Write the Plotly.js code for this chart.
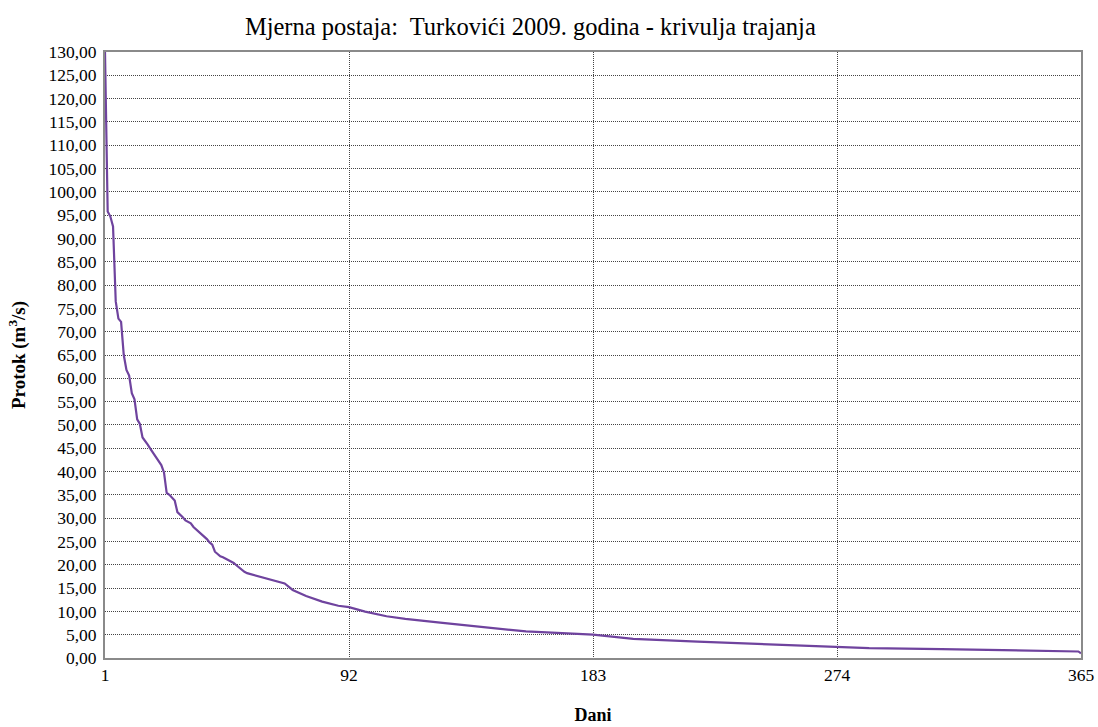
<!DOCTYPE html>
<html><head><meta charset="utf-8">
<script src="https://cdn.plot.ly/plotly-3.0.1.min.js"></script>
<style>html,body{margin:0;padding:0;background:#fff}#chart{width:1098px;height:727px}</style>
</head><body><div id="chart"></div>
<script>
const days = [1,2,3,4,5,6,7,8,9,10,11,12,13,14,15,16,17,18,19,20,21,22,23,24,25,26,27,28,29,30,
  31,32,33,34,35,36,37,38,39,40,41,42,43,44,45,46,47,48,49,50,51,52,53,54,
  58,63,68,71,76,82,88,92,98,106,113,126,158,183,198,222,248,274,286,313,340,364,365];
const flows = [130,95.8,94.7,92.6,76.5,72.8,72.1,65.0,61.8,60.6,56.8,55.5,51.2,50.2,47.3,46.6,45.7,44.8,44.0,43.0,
  42.3,41.4,39.8,35.4,35.0,34.5,33.8,31.3,30.8,30.2,29.5,29.2,28.9,28.1,27.6,26.9,26.4,25.9,25.5,24.8,
  24.3,22.8,22.2,21.8,21.6,21.3,21.1,20.7,20.4,19.9,19.4,19.0,18.5,18.2,
  17.6,16.7,16.0,14.6,13.3,12.1,11.2,10.9,9.95,8.95,8.4,7.6,5.7,5.0,4.1,3.5,2.9,2.3,2.1,1.9,1.7,1.4,1.0];
const xTickVals = [1,92,183,274,365];
const xTickText = ['1','92','183','274','365'];
const yTickVals = [0,5,10,15,20,25,30,35,40,45,50,55,60,65,70,75,80,85,90,95,100,105,110,115,120,125,130];
const yTickText = ['0,00','5,00','10,00','15,00','20,00','25,00','30,00','35,00','40,00','45,00','50,00','55,00','60,00','65,00','70,00','75,00','80,00','85,00','90,00','95,00','100,00','105,00','110,00','115,00','120,00','125,00','130,00'];
const chartTitle = 'Mjerna postaja:  Turkovići 2009. godina - krivulja trajanja';
const xTitle = 'Dani';
const yTitle = 'Protok (m<sup>3</sup>/s)';

const trace = {
  x: days, y: flows, type: 'scatter', mode: 'lines',
  line: {color: '#6F439E', width: 2.2},
  hoverinfo: 'x+y'
};
const serif = "'Liberation Serif', 'Times New Roman', serif";
const layout = {
  width: 1098, height: 727,
  margin: {l: 105, r: 17, t: 52, b: 69},
  paper_bgcolor: '#ffffff', plot_bgcolor: '#ffffff',
  font: {family: serif, color: '#000'},
  showlegend: false,
  title: {text: chartTitle, font: {family: serif, size: 24.5, color: '#000'},
    xref: 'container', x: 0.483, xanchor: 'center', yref: 'container', y: 0.963, yanchor: 'middle'},
  xaxis: {
    range: [1, 365], tickvals: xTickVals, ticktext: xTickText,
    showgrid: true, gridcolor: '#444', griddash: '1px,1px', gridwidth: 1,
    showline: true, linecolor: '#8a8a8a', linewidth: 2, mirror: true,
    ticks: '', zeroline: false, tickfont: {family: serif, size: 17.5, color: '#000'},
    title: {text: '<b>' + xTitle + '</b>', font: {family: serif, size: 18, color: '#000'}, standoff: 24}
  },
  yaxis: {
    range: [0, 130], tickvals: yTickVals, ticktext: yTickText,
    showgrid: true, gridcolor: '#444', griddash: '1px,1px', gridwidth: 1,
    showline: true, linecolor: '#8a8a8a', linewidth: 2, mirror: true,
    ticks: '', zeroline: false, ticklabelstandoff: 3, tickfont: {family: serif, size: 17.5, color: '#000'},
    title: {text: '<b>' + yTitle + '</b>', font: {family: serif, size: 19, color: '#000'}, standoff: 18}
  }
};
Plotly.newPlot('chart', [trace], layout, {displayModeBar: false, staticPlot: true});
</script></body></html>
